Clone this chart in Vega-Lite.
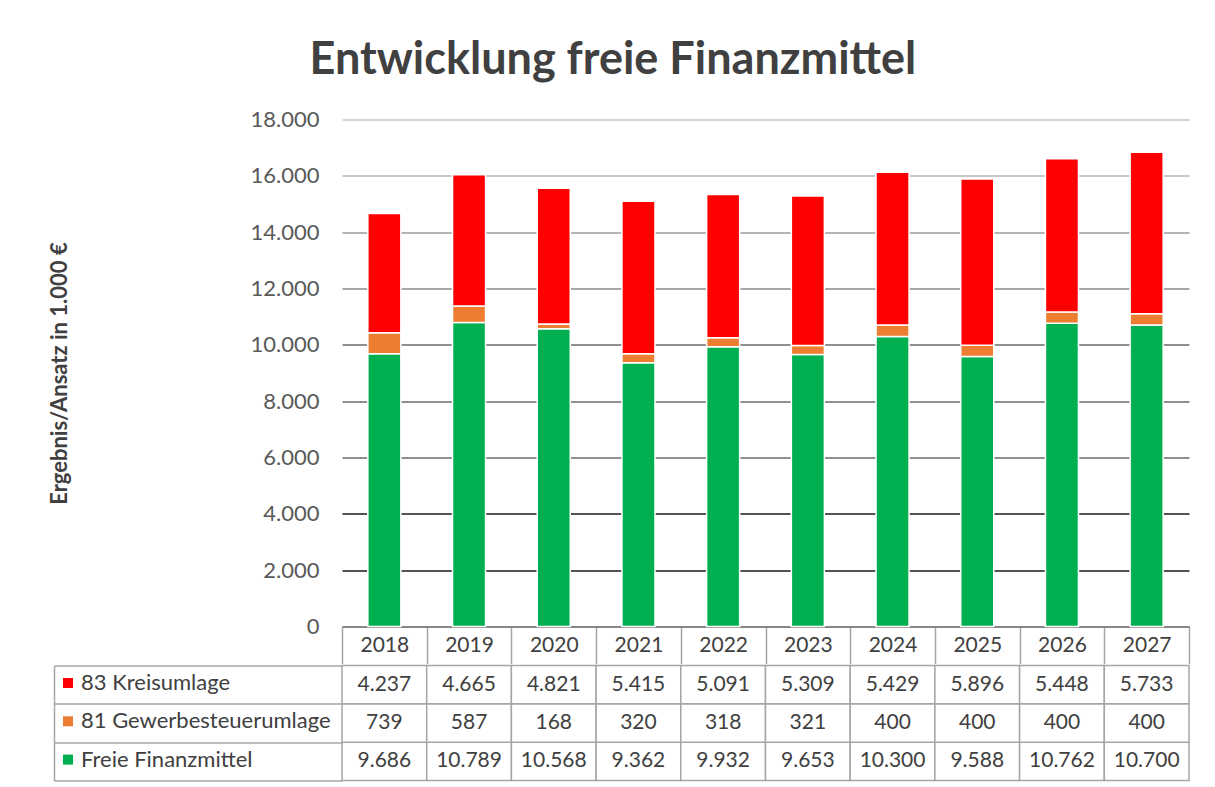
{
  "$schema": "https://vega.github.io/schema/vega-lite/v6.json",
  "padding": {"left": 48, "top": 37.5, "right": 5, "bottom": 5},
  "background": "white",
  "config": {
    "font": "Lato",
    "locale": {"number": {"decimal": ",", "thousands": ".", "grouping": [3], "currency": ["", " €"]}},
    "view": {"stroke": null},
    "concat": {"spacing": 0}
  },
  "title": {"text": "Entwicklung freie Finanzmittel", "fontSize": 45, "fontWeight": "bold", "color": "#404040", "anchor": "middle", "offset": 26, "dx": -6, "font": "Lato"},
  "datasets": {
    "werte": [
      {"Jahr": "2018", "Reihe": "Freie Finanzmittel", "Rang": 1, "Wert": 9686},
      {"Jahr": "2018", "Reihe": "81 Gewerbesteuerumlage", "Rang": 2, "Wert": 739},
      {"Jahr": "2018", "Reihe": "83 Kreisumlage", "Rang": 3, "Wert": 4237},
      {"Jahr": "2019", "Reihe": "Freie Finanzmittel", "Rang": 1, "Wert": 10789},
      {"Jahr": "2019", "Reihe": "81 Gewerbesteuerumlage", "Rang": 2, "Wert": 587},
      {"Jahr": "2019", "Reihe": "83 Kreisumlage", "Rang": 3, "Wert": 4665},
      {"Jahr": "2020", "Reihe": "Freie Finanzmittel", "Rang": 1, "Wert": 10568},
      {"Jahr": "2020", "Reihe": "81 Gewerbesteuerumlage", "Rang": 2, "Wert": 168},
      {"Jahr": "2020", "Reihe": "83 Kreisumlage", "Rang": 3, "Wert": 4821},
      {"Jahr": "2021", "Reihe": "Freie Finanzmittel", "Rang": 1, "Wert": 9362},
      {"Jahr": "2021", "Reihe": "81 Gewerbesteuerumlage", "Rang": 2, "Wert": 320},
      {"Jahr": "2021", "Reihe": "83 Kreisumlage", "Rang": 3, "Wert": 5415},
      {"Jahr": "2022", "Reihe": "Freie Finanzmittel", "Rang": 1, "Wert": 9932},
      {"Jahr": "2022", "Reihe": "81 Gewerbesteuerumlage", "Rang": 2, "Wert": 318},
      {"Jahr": "2022", "Reihe": "83 Kreisumlage", "Rang": 3, "Wert": 5091},
      {"Jahr": "2023", "Reihe": "Freie Finanzmittel", "Rang": 1, "Wert": 9653},
      {"Jahr": "2023", "Reihe": "81 Gewerbesteuerumlage", "Rang": 2, "Wert": 321},
      {"Jahr": "2023", "Reihe": "83 Kreisumlage", "Rang": 3, "Wert": 5309},
      {"Jahr": "2024", "Reihe": "Freie Finanzmittel", "Rang": 1, "Wert": 10300},
      {"Jahr": "2024", "Reihe": "81 Gewerbesteuerumlage", "Rang": 2, "Wert": 400},
      {"Jahr": "2024", "Reihe": "83 Kreisumlage", "Rang": 3, "Wert": 5429},
      {"Jahr": "2025", "Reihe": "Freie Finanzmittel", "Rang": 1, "Wert": 9588},
      {"Jahr": "2025", "Reihe": "81 Gewerbesteuerumlage", "Rang": 2, "Wert": 400},
      {"Jahr": "2025", "Reihe": "83 Kreisumlage", "Rang": 3, "Wert": 5896},
      {"Jahr": "2026", "Reihe": "Freie Finanzmittel", "Rang": 1, "Wert": 10762},
      {"Jahr": "2026", "Reihe": "81 Gewerbesteuerumlage", "Rang": 2, "Wert": 400},
      {"Jahr": "2026", "Reihe": "83 Kreisumlage", "Rang": 3, "Wert": 5448},
      {"Jahr": "2027", "Reihe": "Freie Finanzmittel", "Rang": 1, "Wert": 10700},
      {"Jahr": "2027", "Reihe": "81 Gewerbesteuerumlage", "Rang": 2, "Wert": 400},
      {"Jahr": "2027", "Reihe": "83 Kreisumlage", "Rang": 3, "Wert": 5733}
    ]
  },
  "vconcat": [
    {
      "width": 847,
      "height": 507,
      "data": {"name": "werte"},
      "mark": {"type": "bar", "width": {"band": 0.39}, "stroke": "white", "strokeWidth": 1.5},
      "encoding": {
        "x": {
          "field": "Jahr", "type": "ordinal",
          "scale": {"paddingInner": 0, "paddingOuter": 0},
          "axis": {"title": null, "orient": "bottom", "domainColor": "#7f7f7f", "domainWidth": 1.5, "tickBand": "extent", "tickSize": 37, "tickColor": "#a6a6a6", "tickWidth": 1.5, "labelAngle": 0, "labelFontSize": 21, "labelColor": "#404040", "labelPadding": -18.5, "labelBaseline": "middle", "grid": false}
        },
        "y": {
          "field": "Wert", "type": "quantitative", "stack": "zero",
          "scale": {"domain": [0, 18000], "nice": false},
          "axis": {
            "title": "Ergebnis/Ansatz in 1.000 €", "titleFontSize": 22, "titleFontWeight": "bold", "titleColor": "#404040",
            "titleX": -283, "titleY": 253.5, "titleAngle": 270, "titleAlign": "center", "titleBaseline": "middle",
            "values": [0, 2000, 4000, 6000, 8000, 10000, 12000, 14000, 16000, 18000],
            "format": ",.0f", "labelFontSize": 22, "labelColor": "#595959", "labelPadding": 23,
            "ticks": false, "domain": false, "grid": true, "gridWidth": 1.3,
            "gridColor": {"condition": [
              {"test": "datum.value >= 18000", "value": "#c4c4c4"},
              {"test": "datum.value >= 16000", "value": "#b4b4b4"},
              {"test": "datum.value >= 14000", "value": "#9c9c9c"},
              {"test": "datum.value >= 12000", "value": "#8a8a8a"},
              {"test": "datum.value >= 6000", "value": "#6a6a6a"},
              {"test": "datum.value >= 2000", "value": "#1a1a1a"}
            ], "value": "#7f7f7f"}
          }
        },
        "color": {
          "field": "Reihe", "type": "nominal",
          "scale": {"domain": ["83 Kreisumlage", "81 Gewerbesteuerumlage", "Freie Finanzmittel"], "range": ["#ff0000", "#ed7d31", "#00b050"]},
          "legend": {"orient": "none", "legendX": -285, "legendY": 552.5, "title": null, "direction": "vertical", "symbolType": "square", "symbolSize": 100, "symbolStrokeWidth": 0, "labelFontSize": 22, "labelColor": "#404040", "labelOffset": 2, "labelLimit": 400, "rowPadding": 16.3}
        },
        "order": {"field": "Rang", "type": "quantitative"}
      }
    },
    {
      "width": 847,
      "height": 115,
      "data": {"name": "werte"},
      "encoding": {
        "x": {"field": "Jahr", "type": "ordinal", "scale": {"paddingInner": 0, "paddingOuter": 0}, "axis": null},
        "y": {
          "field": "Reihe", "type": "nominal",
          "scale": {"domain": ["83 Kreisumlage", "81 Gewerbesteuerumlage", "Freie Finanzmittel"], "paddingInner": 0, "paddingOuter": 0},
          "axis": {"title": null, "orient": "left", "offset": 288, "domain": true, "domainColor": "#a6a6a6", "domainWidth": 1.5, "ticks": true, "tickBand": "extent", "tickSize": -288, "tickColor": "#a6a6a6", "tickWidth": 1.5, "labels": false, "grid": false}
        }
      },
      "layer": [
        {"mark": {"type": "rect", "fill": "white", "stroke": "#a6a6a6", "strokeWidth": 1.5}},
        {"mark": {"type": "text", "fontSize": 21, "color": "#404040", "baseline": "middle"}, "encoding": {"text": {"field": "Wert", "type": "quantitative", "format": ",.0f"}}}
      ]
    }
  ]
}
